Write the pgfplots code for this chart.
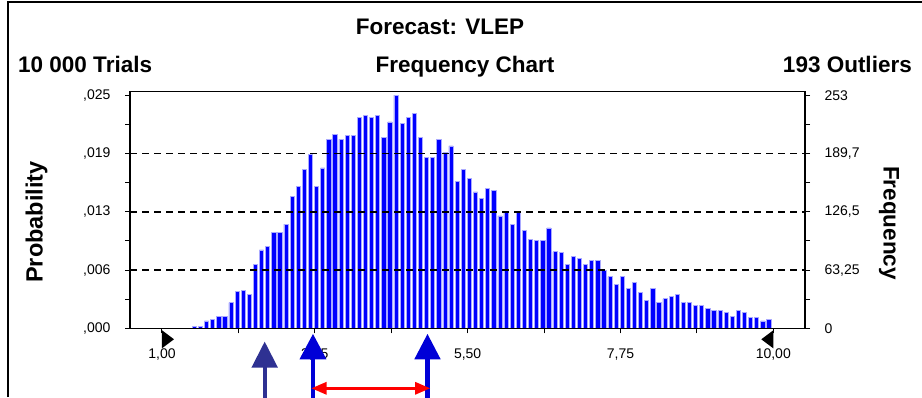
\documentclass[border=0pt]{standalone}
\usepackage{fontspec}
\setmainfont{Liberation Sans}
\usepackage{pgfplots}
\pgfplotsset{compat=1.18}
\definecolor{barblue}{RGB}{0,0,255}
\definecolor{baredge}{RGB}{170,170,255}
\definecolor{navyarrow}{RGB}{46,49,146}
\definecolor{arrowblue}{RGB}{0,0,215}
\pgfplotstableread{
x y
1.476 2
1.566 2
1.656 8
1.746 10
1.836 13
1.926 13
2.016 28
2.106 40
2.196 41
2.286 37
2.376 69
2.466 85
2.556 89
2.646 104
2.736 104
2.826 113
2.916 143
3.006 154
3.096 172
3.186 189
3.276 154
3.366 174
3.456 205
3.546 210
3.636 205
3.726 209
3.816 209
3.906 229
3.996 231
4.086 229
4.176 231
4.266 207
4.356 224
4.446 253
4.536 222
4.626 229
4.716 233
4.806 207
4.896 185
4.986 185
5.076 205
5.166 191
5.256 198
5.346 159
5.436 172
5.526 163
5.616 148
5.706 141
5.796 152
5.886 150
5.976 122
6.066 126
6.156 113
6.246 126
6.336 106
6.426 96
6.516 95
6.606 95
6.696 109
6.786 83
6.876 82
6.966 69
7.056 78
7.146 76
7.236 69
7.326 74
7.416 74
7.506 63
7.596 56
7.686 48
7.776 56
7.866 43
7.956 50
8.046 39
8.136 30
8.226 43
8.316 28
8.406 32
8.496 35
8.586 37
8.676 28
8.766 28
8.856 25
8.946 25
9.036 22
9.126 19
9.216 19
9.306 17
9.396 13
9.486 19
9.576 17
9.666 12
9.756 12
9.846 8
9.936 10
}\freqdata
\begin{document}
\begin{tikzpicture}
\useasboundingbox (0pt,0pt) rectangle (922pt,397pt);
% outer frame
\draw[line width=2pt] (8pt,0pt) -- (8pt,395pt) -- (922pt,395pt);
% titles
\node[anchor=base, inner sep=0pt, font=\fontsize{22.5}{24}\bfseries\selectfont] at (440pt,362pt) {Forecast: VLEP};
\node[anchor=base west, inner sep=0pt, font=\fontsize{22.5}{24}\bfseries\selectfont] at (18pt,324pt) {10 000 Trials};
\node[anchor=base, inner sep=0pt, font=\fontsize{22.5}{24}\bfseries\selectfont] at (465pt,324pt) {Frequency Chart};
\node[anchor=base east, inner sep=0pt, font=\fontsize{22.5}{24}\bfseries\selectfont] at (912pt,324pt) {193 Outliers};
\node[rotate=90, inner sep=0pt, font=\fontsize{23.5}{25}\bfseries\selectfont] at (36.5pt,175pt) {Probability};
\node[rotate=-90, inner sep=0pt, font=\fontsize{22.5}{24}\bfseries\selectfont] at (889pt,174pt) {Frequency};

\begin{axis}[
  at={(130pt,68.7pt)}, anchor=south west,
  width=675pt, height=236.8pt, scale only axis,
  xmin=0.529, xmax=10.467, ymin=0, ymax=257,
  axis on top,
  axis line style={line width=1.2pt},
  tick align=outside,
  major tick length=5pt, minor tick length=5pt,
  tick style={black, line width=1pt},
  xtick pos=bottom, ytick pos=left,
  xtick={1,2.125,3.25,4.375,5.5,6.625,7.75,8.875,10},
  xticklabels={{1,00},{},{3,25},{},{5,50},{},{7,75},{},{10,00}},
  ytick={0,63.25,126.5,189.75,253},
  yticklabels={{,000},{,006},{,013},{,019},{,025}},
  minor ytick={31.625,94.875,158.125,221.375},
  ticklabel style={font=\fontsize{14}{14}\selectfont},
  xticklabel style={yshift=-12pt},
  yticklabel style={xshift=-11pt},
  clip=false,
]
\addplot[ybar, bar width=4.2pt, fill=barblue, draw=baredge, line width=0.7pt] table[x=x,y=y] {\freqdata};
\draw[dash pattern=on 7pt off 5pt, line width=1.9pt] (axis cs:0.529,63.25) -- (axis cs:10.467,63.25);
\draw[dash pattern=on 7pt off 5pt, line width=1.9pt] (axis cs:0.529,126.5) -- (axis cs:10.467,126.5);
\draw[dash pattern=on 7pt off 5pt, line width=1.9pt] (axis cs:0.529,189.75) -- (axis cs:10.467,189.75);
\coordinate (lo) at (axis cs:1,0);
\coordinate (hi) at (axis cs:10,0);
\coordinate (nv) at (axis cs:2.512,0);
\coordinate (b1) at (axis cs:3.223,0);
\coordinate (b2) at (axis cs:4.909,0);
\coordinate (ra) at (axis cs:3.203,0);
\coordinate (rb) at (axis cs:4.946,0);
\end{axis}

\begin{axis}[
  at={(130pt,68.7pt)}, anchor=south west,
  width=675pt, height=236.8pt, scale only axis,
  xmin=0.529, xmax=10.467, ymin=0, ymax=257,
  axis x line=none, axis y line*=right,
  axis line style={line width=1.2pt},
  tick align=outside,
  major tick length=5pt, minor tick length=5pt,
  tick style={black, line width=1pt},
  ytick={0,63.25,126.5,189.75,253},
  yticklabels={{0},{63,25},{126,5},{189,7},{253}},
  minor ytick={31.625,94.875,158.125,221.375},
  ticklabel style={font=\fontsize{14}{14}\selectfont},
  yticklabel style={xshift=11pt},
]
\addplot[draw=none] coordinates {(1,0)};
\end{axis}

% certainty grabbers
\fill[black] (lo) ++(0,-2pt) -- ++(0,-18pt) -- ++(12pt,9pt) -- cycle;
\fill[black] (hi) ++(0,-2pt) -- ++(0,-18pt) -- ++(-12pt,9pt) -- cycle;
% arrows
\fill[navyarrow] (nv) ++(-2pt,-70pt) rectangle ++(4pt,31pt);
\fill[navyarrow] (nv) ++(-13.3pt,-39.4pt) -- ++(26.6pt,0pt) -- ++(-13.3pt,26pt) -- cycle;
\fill[arrowblue] (b1) ++(-1.9pt,-70pt) rectangle ++(3.8pt,40pt);
\fill[arrowblue] (b1) ++(-13.5pt,-31pt) -- ++(27pt,0pt) -- ++(-13.5pt,25.3pt) -- cycle;
\fill[arrowblue] (b2) ++(-2.2pt,-70pt) rectangle ++(4.4pt,40pt);
\fill[arrowblue] (b2) ++(-13.2pt,-31pt) -- ++(26.4pt,0pt) -- ++(-13.2pt,25.3pt) -- cycle;
\draw[red, line width=3.3pt] (ra) ++(12pt,-60pt) -- ++(93pt,0pt);
\fill[red] (ra) ++(0pt,-60pt) -- ++(15pt,6.5pt) -- ++(0pt,-13pt) -- cycle;
\fill[red] (rb) ++(0pt,-60pt) -- ++(-15pt,6.5pt) -- ++(0pt,-13pt) -- cycle;
\end{tikzpicture}
\end{document}
